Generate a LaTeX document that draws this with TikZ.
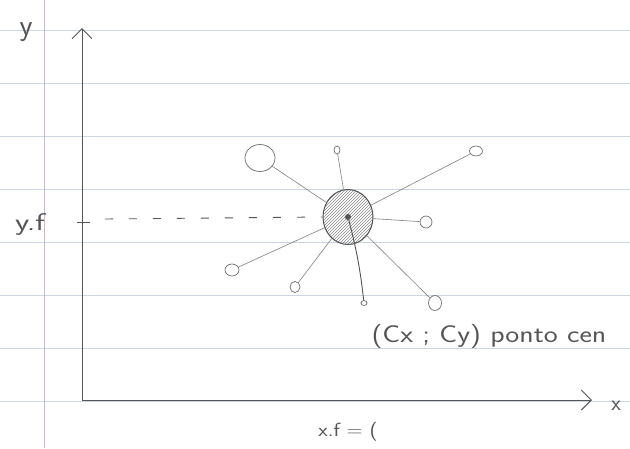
\documentclass[tikz,border=0pt]{standalone}
\usepackage{xcolor}
\usepackage{tikz}
\usetikzlibrary{shapes.geometric, arrows.meta, patterns, calc}
\definecolor{pencil}{HTML}{555555}
\definecolor{ruled}{HTML}{CBD5E8}
\definecolor{margin}{HTML}{BDBDE3}

\begin{document}
\begin{tikzpicture}[
    x=1pt, y=-1pt,
    every node/.style={text=pencil},
    hand/.style={font=\fontsize{22}{26}\selectfont\sffamily},
    hub/.style={ellipse, draw=pencil, line width=1pt, minimum width=50pt,
                minimum height=55pt, inner sep=0pt,
                pattern=north east lines, pattern color=pencil!70},
    sat/.style={ellipse, draw=pencil!85, line width=0.7pt, inner sep=0pt},
    spoke/.style={draw=pencil!75, line width=0.6pt},
    axis/.style={{Straight Barb[length=10pt, width=20pt]}-{Straight Barb[length=10pt, width=20pt]},
                 draw=pencil, line width=1pt},
]
    % Paper
    \fill[white] (0,0) rectangle (630,448);
    \useasboundingbox (0,0) rectangle (630,448);
    \foreach \ly in {30,83,...,401}
        \draw[ruled, line width=0.7pt] (0,\ly) -- (630,\ly);
    \draw[margin, line width=0.8pt] (44,0) -- (44,448);

    % Axes
    \coordinate (orig) at (82,400);
    \coordinate (ytip) at (82,28);
    \coordinate (xtip) at (592,400);
    \draw[axis] (ytip) -- (orig) -- (xtip);
    \node[hand, font=\fontsize{30}{34}\selectfont\sffamily] (ylab) at (26,32) {y};
    \node[hand] (xlab) at (616,406) {x};

    % Centre point
    \node[hub] (hub) at (348,217) {};
    \node[circle, fill=pencil, inner sep=0pt, minimum size=6pt] (dot) at (348,217) {};

    % Satellites
    \node[sat, minimum width=30pt, minimum height=27pt] (sUL) at (260,158) {};
    \node[sat, minimum width=6pt, minimum height=8pt] (sTop) at (337,150) {};
    \node[sat, minimum width=13pt, minimum height=10pt] (sUR) at (476,151) {};
    \node[sat, minimum width=12pt, minimum height=12pt] (sR) at (426,222) {};
    \node[sat, minimum width=14pt, minimum height=12pt] (sLL) at (232,270) {};
    \node[sat, minimum width=10pt, minimum height=11pt] (sLow) at (295,287) {};
    \node[sat, minimum width=6pt, minimum height=5pt] (sBot) at (364,303) {};
    \node[sat, minimum width=13pt, minimum height=15pt] (sLR) at (435,303) {};

    % Spokes
    \foreach \s in {sUL, sTop, sUR, sR, sLL, sLow, sLR}
        \draw[spoke] (hub) -- (\s);
    \draw[spoke, draw=pencil, line width=0.9pt] (dot) to[bend left=4] (sBot);

    % Projection on y
    \coordinate (ytick) at (82,222);
    \coordinate (dstart) at (105,219);
    \draw[pencil, line width=0.9pt] ($(ytick)+(-5,0)$) -- ($(ytick)+(8,0)$);
    \draw[pencil, line width=0.9pt, dash pattern=on 8pt off 16pt] (dstart) -- (hub.west);
    \node[hand] (yf) at (30,224) {\scalebox{1.5}[1.1]{y.f}};

    % Labels
    \node[hand, anchor=base west] (cname) at (368,342) {\scalebox{1.35}[1.1]{(Cx ; Cy) ponto cen}};
    \node[hand, font=\fontsize{19}{22}\selectfont\sffamily] (xf) at (348,432) {\scalebox{1.15}[1]{x.f = (}};
\end{tikzpicture}
\end{document}
